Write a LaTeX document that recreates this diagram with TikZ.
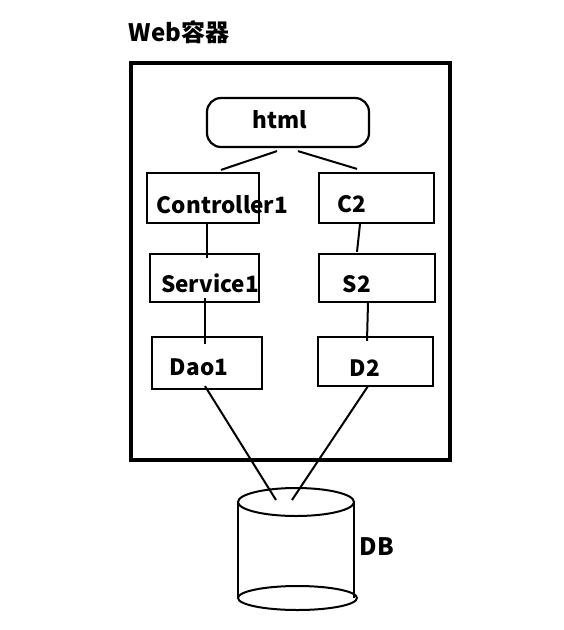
\documentclass[tikz,border=0pt]{standalone}
\usepackage{fontspec}
\setmainfont{Noto Sans CJK SC}
\usetikzlibrary{positioning, calc}
\tikzset{box node/.style={rectangle, draw, line width=2.2pt, inner sep=0pt},
  tag/.style={font=\bfseries\fontsize{22.5}{26}\selectfont, inner sep=0pt},}

\begin{document}
\begin{tikzpicture}[x=1pt, y=-1pt, line width=2pt]
			\useasboundingbox (0,0) rectangle (564,630);
			% Container
			\node[tag, font=\bfseries\fontsize{24}{28}\selectfont] (web) at (179,32) {Web容器};
			\draw[line width=4.5pt] (131,63) rectangle (450,460);
			% Boxes
			\node[box node, rounded corners=14pt, minimum width=162pt, minimum height=49pt] (html) at (288,122.5) {};
			\node[box node, minimum width=112pt, minimum height=50pt] (c1) at (203,198) {};
			\node[box node, minimum width=115pt, minimum height=50pt] (c2) at (376.5,198) {};
			\node[box node, minimum width=109pt, minimum height=48pt] (s1) at (204.5,278) {};
			\node[box node, minimum width=116pt, minimum height=48pt] (s2) at (377,278) {};
			\node[box node, minimum width=110pt, minimum height=52pt] (d1) at (207,363) {};
			\node[box node, minimum width=115pt, minimum height=49pt] (d2) at (375.5,361.5) {};
			% Labels
			\node[tag] at (280,120) {html};
			\node[tag] at (222.5,205) {Controller1};
			\node[tag] at (352,204) {C2};
			\node[tag] at (210,283) {Service1};
			\node[tag] at (357,284) {S2};
			\node[tag] at (199,367) {Dao1};
			\node[tag] at (365,368) {D2};
			% DB
			\coordinate (db) at (296,502);
			\draw (238,502) -- (238,598) (354,502) -- (354,598);
			\draw (db) ellipse [x radius=58, y radius=14];
			\draw (297.5,598) ellipse [x radius=59.5, y radius=12];
			\node[tag, font=\bfseries\fontsize{24}{28}\selectfont] (dbl) at (377,547) {DB};
			% Paths
			\draw ($(html.south)+(-11,3)$) -- ($(c1.north)+(18,-2)$);
			\draw ($(html.south)+(10,3)$) -- ($(c2.north)+(-19.5,-3)$);
			\draw ($(c1.south)+(4,0)$) -- ($(s1.north)+(2.5,5)$);
			\draw ($(c2.south)+(-16.5,0)$) -- ($(s2.north)+(-20,-1)$);
			\draw ($(s1.south)+(0.5,-5)$) -- ($(d1.north)+(-2,8)$);
			\draw ($(s2.south)+(-9,0)$) -- ($(d2.north)+(-8.5,5)$);
			\draw ($(d1.south)+(-2,-4)$) -- ($(db)+(-20,-2)$);
			\draw ($(d2.south)+(-7.5,-1)$) -- ($(db)+(-4,-2)$);
		\end{tikzpicture}
\end{document}
